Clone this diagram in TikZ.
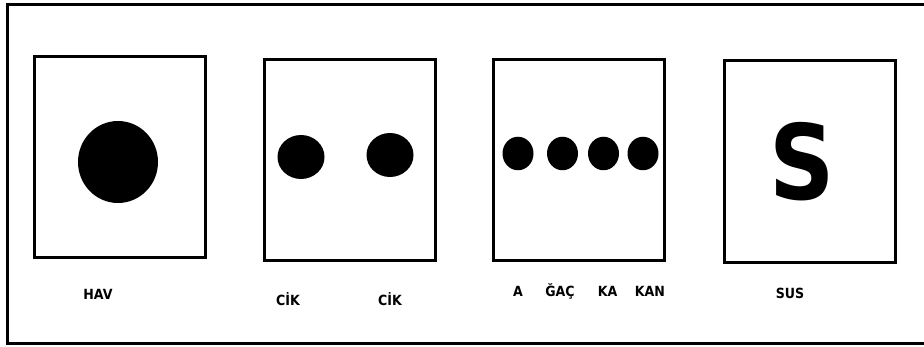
\documentclass[tikz,border=0pt]{standalone}
\usepackage{fontspec}
\newfontfamily\lbl{DejaVu Sans Condensed}
\usetikzlibrary{shapes.geometric}
\tikzset{
  card/.style={draw=black, line width=3pt, fill=white, inner sep=0pt},
  dot/.style={ellipse, fill=black, inner sep=0pt},
  word/.style={font=\lbl\bfseries\fontsize{14}{14}\selectfont, anchor=base, inner sep=0pt}
}
\begin{document}
\begin{tikzpicture}[x=1pt,y=-1pt]
\useasboundingbox (0,0) rectangle (924,347);
\clip (0,0) rectangle (924,347);
\fill[white] (0,0) rectangle (924,347);
\draw[line width=3pt] (930,4.5) -- (7.5,4.5) -- (7.5,344) -- (930,344);
% cards
\node[card, minimum width=171pt, minimum height=201.5pt] (b1) at (120,157.25) {};
\node[card, minimum width=171pt, minimum height=201.5pt] (b2) at (350,160.25) {};
\node[card, minimum width=170.5pt, minimum height=201.5pt] (b3) at (578.75,160.25) {};
\node[card, minimum width=170.5pt, minimum height=202pt] (b4) at (809.75,162) {};
% dots
\node[dot, minimum width=80pt, minimum height=82pt] (d1) at (118,162) {};
\node[dot, minimum width=47pt, minimum height=44pt] (d2) at (301,157) {};
\node[dot, minimum width=47pt, minimum height=44pt] (d3) at (390,155) {};
\node[dot, minimum width=31pt, minimum height=33.5pt] (d4) at (518,153.5) {};
\node[dot, minimum width=31pt, minimum height=33.5pt] (d5) at (562.5,153.5) {};
\node[dot, minimum width=31pt, minimum height=33.5pt] (d6) at (603.5,153.5) {};
\node[dot, minimum width=31pt, minimum height=33.5pt] (d7) at (643,153.5) {};
% S
\node[font=\lbl\bfseries\fontsize{104}{104}\selectfont, anchor=base, inner sep=0pt] (s) at (802,200) {\scalebox{0.97}[1]{S}};
% labels
\node[word] (l1) at (98,300) {HAV};
\node[word] (l2) at (288,306) {CİK};
\node[word] (l3) at (390,306) {CİK};
\node[word] (l4) at (518,297) {A};
\node[word] (l5) at (560,297) {ĞAÇ};
\node[word] (l6) at (607.5,297) {KA};
\node[word] (l7) at (650,297) {KAN};
\node[word] (l8) at (790,299) {SUS};
\end{tikzpicture}
\end{document}
